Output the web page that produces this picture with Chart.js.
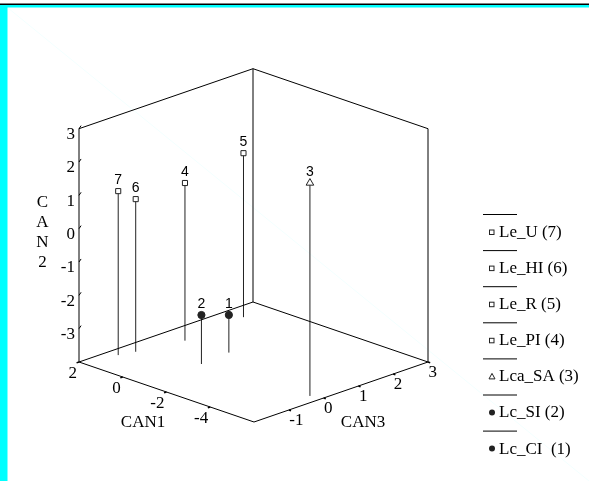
<!DOCTYPE html>
<html>
<head>
<meta charset="utf-8">
<script src="https://cdn.jsdelivr.net/npm/chart.js@4.4.1/dist/chart.umd.min.js"></script>
<style>
  html, body { margin: 0; padding: 0; background: #fff; }
  #wrap { position: absolute; left: 0; top: 0; width: 589px; height: 481px; }
</style>
</head>
<body>
<div id="wrap"><canvas id="myChart" width="589" height="481"></canvas></div>
<script>
// groups (legend order, top to bottom)
const groupNames = ['Le_U (7)', 'Le_HI (6)', 'Le_R (5)', 'Le_PI (4)', 'Lca_SA (3)', 'Lc_SI (2)', 'Lc_CI  (1)']
const groupIds = ['7', '6', '5', '4', '3', '2', '1']
// centroid scores
const can1 = [1.56, 1.38, 1.21, 0.99, -5.55, -0.94, -0.81]
const can2 = [0.92, 0.58, 0.92, 0.73, 2.39, -2.53, -2.87]
const can3 = [-1.15, -0.76, 2.23, 0.41, -0.11, -0.33, 0.54]

// axis ranges and tick labels
const can1Range = [-6, 2]
const can2Range = [-4, 3]
const can3Range = [-2, 3]
const can1Ticks = [2, 0, -2, -4]
const can2Ticks = [3, 2, 1, 0, -1, -2, -3]
const can3Ticks = [-1, 0, 1, 2, 3]

// marker style per group
const markerStyle = ['rect', 'rect', 'rect', 'rect', 'triangle', 'circle', 'circle']

const W = 589, H = 481
const SERIF = "'Liberation Serif', 'Times New Roman', serif"
const SANS = "'Liberation Sans', Arial, sans-serif"

// oblique projection of the 3d box onto the flat x/y scales
const ORIGIN = { x: 254, y: 422 }     // front bottom corner
const U1 = { x: -21.875, y: -7.5 }    // one CAN1 unit
const U3 = { x: 34.8, y: -12 }        // one CAN3 unit
const U2 = 33.33                       // one CAN2 unit (up)

const proj = (c1, c2, c3) => {
    const a = c1 - can1Range[0]
    const c = c3 - can3Range[0]
    const b = c2 - can2Range[0]
    return {
        x: ORIGIN.x + U1.x * a + U3.x * c,
        y: ORIGIN.y + U1.y * a + U3.y * c - U2 * b
    }
}

const datasets = []
const seg = (p, q, color, width) => {
    datasets.push({
        data: [p, q],
        showLine: true,
        borderColor: color,
        borderWidth: width,
        pointRadius: 0,
        pointHoverRadius: 0,
        order: 3
    })
}

// box
const [x0, x1] = can1Range, [y0, y1] = can2Range, [z0, z1] = can3Range
seg(proj(x1, y0, z0), proj(x1, y1, z0), '#000', 1)   // left vertical
seg(proj(x1, y0, z1), proj(x1, y1, z1), '#000', 1)   // back vertical
seg(proj(x0, y0, z1), proj(x0, y1, z1), '#000', 1)   // right vertical
seg(proj(x1, y0, z0), proj(x1, y0, z1), '#000', 1)   // floor back left
seg(proj(x1, y0, z1), proj(x0, y0, z1), '#000', 1)   // floor back right
seg(proj(x1, y0, z0), proj(x0, y0, z0), '#000', 1)   // floor front left (CAN1)
seg(proj(x0, y0, z0), proj(x0, y0, z1), '#000', 1)   // floor front right (CAN3)
seg(proj(x1, y1, z0), proj(x1, y1, z1), '#000', 1)   // top back left
seg(proj(x1, y1, z1), proj(x0, y1, z1), '#000', 1)   // top back right

// tick marks
can2Ticks.forEach(v => seg(proj(x1, v, z0), proj(x1, v + 0.07, z0 + 0.06), '#000', 1))
can1Ticks.forEach(v => seg(proj(v, y0, z0), proj(v, y0, z0 - 0.07), '#000', 1.5))
can3Ticks.forEach(v => seg(proj(x0, y0, v), proj(x0 - 0.1, y0, v), '#000', 1.5))

// drop lines
groupIds.forEach((id, i) => {
    seg(proj(can1[i], y0, can3[i]), proj(can1[i], can2[i], can3[i]), '#222', 1)
})

// markers
groupIds.forEach((id, i) => {
    const st = markerStyle[i]
    datasets.push({
        data: [proj(can1[i], can2[i], can3[i])],
        showLine: false,
        pointStyle: st,
        pointRadius: st === 'rect' ? 3.6 : (st === 'triangle' ? 4.4 : 3.6),
        pointBackgroundColor: st === 'circle' ? '#222' : '#fff',
        pointBorderColor: '#222',
        pointBorderWidth: 1,
        order: 1
    })
})

const framePlugin = {
    id: 'frame',
    beforeDraw(chart) {
        const ctx = chart.ctx
        ctx.save()
        ctx.fillStyle = '#fff'
        ctx.fillRect(0, 0, W, H)
        ctx.fillStyle = '#00ffff'
        ctx.fillRect(0, 5, W, 2.5)
        ctx.fillRect(0, 5, 7.5, H - 5)
        ctx.fillStyle = '#000'
        ctx.fillRect(0, 3.5, W, 1.5)
        ctx.strokeStyle = 'rgba(0,255,255,0.05)'
        ctx.lineWidth = 1
        ctx.beginPath()
        ctx.moveTo(8, 8)
        ctx.lineTo(W, H)
        ctx.stroke()
        ctx.restore()
    }
}

const textPlugin = {
    id: 'texts',
    afterDraw(chart) {
        const ctx = chart.ctx
        const sx = chart.scales.x, sy = chart.scales.y
        const px = (p) => ({ x: sx.getPixelForValue(p.x), y: sy.getPixelForValue(p.y) })
        ctx.save()
        ctx.fillStyle = '#000'
        ctx.textBaseline = 'middle'

        // tick labels
        ctx.font = '17px ' + SERIF
        ctx.textAlign = 'right'
        can2Ticks.forEach(v => {
            const p = px(proj(x1, v, z0))
            ctx.fillText(String(v), p.x - 4, p.y + 6)
        })
        can1Ticks.forEach(v => {
            const p = px(proj(v, y0, z0))
            ctx.fillText(String(v), p.x - 2, p.y + 12)
        })
        ctx.textAlign = 'left'
        can3Ticks.forEach(v => {
            const p = px(proj(x0, y0, v))
            ctx.fillText(String(v), p.x + 0.5, p.y + 11)
        })

        // axis titles
        ctx.textAlign = 'center'
        const m1 = px(proj((x0 + x1) / 2, y0, z0))
        ctx.fillText('CAN1', m1.x - 23.5, m1.y + 31)
        const m3 = px(proj(x0, y0, (z0 + z1) / 2))
        ctx.fillText('CAN3', m3.x + 22, m3.y + 31)
        const top = px(proj(x1, y1, z0))
        ;['C', 'A', 'N', '2'].forEach((ch, k) => {
            ctx.fillText(ch, top.x - 36.5, top.y + 74 + k * 20)
        })

        // point labels
        ctx.font = '14px ' + SANS
        groupIds.forEach((id, i) => {
            const p = px(proj(can1[i], can2[i], can3[i]))
            ctx.fillText(id, p.x, p.y - 11)
        })

        // legend
        ctx.font = '17px ' + SERIF
        ctx.textAlign = 'left'
        groupNames.forEach((name, i) => {
            const ly = 214 + i * 36.1
            ctx.strokeStyle = '#000'
            ctx.lineWidth = 1
            ctx.beginPath()
            ctx.moveTo(483, ly + 0.5)
            ctx.lineTo(517, ly + 0.5)
            ctx.stroke()
            const my = ly + 18
            const st = markerStyle[i]
            ctx.strokeStyle = '#222'
            if (st === 'rect') {
                ctx.fillStyle = '#fff'
                ctx.fillRect(489.5, my - 2, 4.5, 4.5)
                ctx.strokeRect(489.5, my - 2, 4.5, 4.5)
            } else if (st === 'triangle') {
                ctx.fillStyle = '#fff'
                ctx.beginPath()
                ctx.moveTo(492, my - 3)
                ctx.lineTo(495, my + 2.5)
                ctx.lineTo(489, my + 2.5)
                ctx.closePath()
                ctx.fill()
                ctx.stroke()
            } else {
                ctx.fillStyle = '#222'
                ctx.beginPath()
                ctx.arc(492, my, 3, 0, Math.PI * 2)
                ctx.fill()
            }
            ctx.fillStyle = '#000'
            ctx.fillText(name, 499, my + 0.5)
        })
        ctx.restore()
    }
}

const config = {
    type: 'scatter',
    data: { datasets: datasets },
    options: {
        responsive: false,
        animation: false,
        layout: { padding: 0, autoPadding: false },
        plugins: { legend: { display: false }, tooltip: { enabled: false } },
        scales: {
            x: { type: 'linear', min: 0, max: W, display: false },
            y: { type: 'linear', min: 0, max: H, reverse: true, display: false }
        }
    },
    plugins: [framePlugin, textPlugin]
}

const myChart = new Chart(document.getElementById('myChart'), config)
</script>
</body>
</html>
